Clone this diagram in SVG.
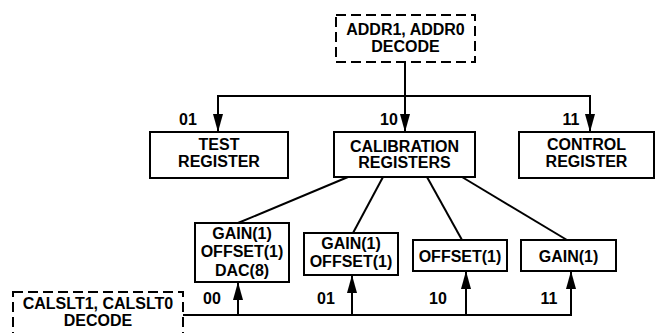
<svg xmlns="http://www.w3.org/2000/svg" width="656" height="333" viewBox="0 0 656 333">
<style>
.box{fill:#fff;stroke:#000;stroke-width:2}
.dash{fill:#fff;stroke:#000;stroke-width:2;stroke-dasharray:10,5}
.t{font-family:"Liberation Sans",Arial,sans-serif;font-weight:bold;font-size:16px;fill:#000;text-anchor:middle}
.c{stroke:#000;stroke-width:2;fill:none}
</style>
<defs>
<marker id="ah" viewBox="0 0 18 10" refX="18" refY="5" markerWidth="18" markerHeight="10" markerUnits="userSpaceOnUse" orient="auto">
<path d="M0,0 L18,5 L0,10 z" fill="#000"/>
</marker>
</defs>
<g id="connectors">
<line class="c" x1="405" y1="62" x2="405" y2="96"/>
<line class="c" x1="218" y1="96" x2="590" y2="96"/>
<line class="c" x1="218" y1="95" x2="218" y2="132" marker-end="url(#ah)"/>
<line class="c" x1="405" y1="95" x2="405" y2="132" marker-end="url(#ah)"/>
<line class="c" x1="590" y1="95" x2="590" y2="132" marker-end="url(#ah)"/>
<line class="c" x1="348" y1="177" x2="238" y2="223"/>
<line class="c" x1="383" y1="177" x2="353" y2="233"/>
<line class="c" x1="427" y1="177" x2="462" y2="240"/>
<line class="c" x1="462" y1="177" x2="567" y2="240"/>
<line class="c" x1="183" y1="315" x2="572" y2="315"/>
<line class="c" x1="238" y1="316" x2="238" y2="282" marker-end="url(#ah)"/>
<line class="c" x1="352" y1="316" x2="352" y2="275" marker-end="url(#ah)"/>
<line class="c" x1="466" y1="316" x2="466" y2="271" marker-end="url(#ah)"/>
<line class="c" x1="571" y1="316" x2="571" y2="271" marker-end="url(#ah)"/>
</g>
<g id="addr-decode">
<rect class="dash" x="336" y="15" width="139" height="47"/>
<text class="t" x="405.5" y="35">ADDR1, ADDR0</text>
<text class="t" x="405.5" y="52">DECODE</text>
</g>
<g id="test-register">
<rect class="box" x="150" y="132" width="138" height="46"/>
<text class="t" x="219" y="150">TEST</text>
<text class="t" x="219" y="167">REGISTER</text>
</g>
<g id="calibration-registers">
<rect class="box" x="334" y="132" width="141" height="45"/>
<text class="t" x="404.5" y="152">CALIBRATION</text>
<text class="t" x="404.5" y="168">REGISTERS</text>
</g>
<g id="control-register">
<rect class="box" x="519" y="132" width="135" height="46"/>
<text class="t" x="586.5" y="150">CONTROL</text>
<text class="t" x="586.5" y="167">REGISTER</text>
</g>
<g id="reg-00">
<rect class="box" x="195" y="223" width="94" height="59"/>
<text class="t" x="242" y="239">GAIN(1)</text>
<text class="t" x="242" y="257">OFFSET(1)</text>
<text class="t" x="242" y="276">DAC(8)</text>
</g>
<g id="reg-01">
<rect class="box" x="304" y="233" width="94" height="42"/>
<text class="t" x="351" y="249">GAIN(1)</text>
<text class="t" x="351" y="267">OFFSET(1)</text>
</g>
<g id="reg-10">
<rect class="box" x="413" y="240" width="94" height="31"/>
<text class="t" x="460" y="262">OFFSET(1)</text>
</g>
<g id="reg-11">
<rect class="box" x="521" y="240" width="95" height="31"/>
<text class="t" x="568.5" y="262">GAIN(1)</text>
</g>
<g id="calslt-decode">
<rect class="dash" x="13" y="292" width="170" height="50"/>
<text class="t" x="98" y="309">CALSLT1, CALSLT0</text>
<text class="t" x="98" y="326">DECODE</text>
</g>
<g id="labels">
<text class="t" x="188" y="125">01</text>
<text class="t" x="389" y="125">10</text>
<text class="t" x="571" y="125">11</text>
<text class="t" x="212" y="304">00</text>
<text class="t" x="326" y="304">01</text>
<text class="t" x="438" y="304">10</text>
<text class="t" x="549" y="304">11</text>
</g>
</svg>
